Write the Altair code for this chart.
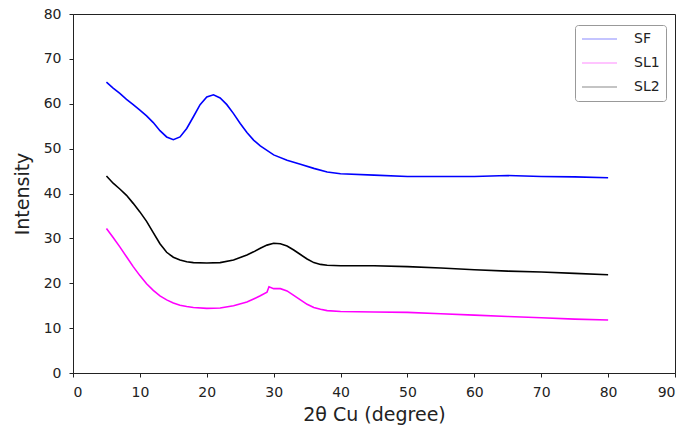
import altair as alt
import pandas as pd

sf_x = [5, 6, 7, 8, 9, 10, 11, 12, 13, 14, 15, 16, 17, 18, 19, 20, 21, 22, 23, 24, 25, 26, 27, 28, 30, 32, 34, 36, 38, 40, 45, 50, 55, 60, 65, 70, 75, 80]
sf_y = [64.8, 63.5, 62.3, 61.0, 59.8, 58.6, 57.3, 55.8, 54.0, 52.6, 52.0, 52.6, 54.5, 57.1, 59.8, 61.5, 62.0, 61.3, 59.8, 57.8, 55.6, 53.6, 51.9, 50.6, 48.6, 47.4, 46.5, 45.6, 44.8, 44.4, 44.1, 43.8, 43.8, 43.8, 44.0, 43.8, 43.7, 43.5]

sl1_x = [5, 6, 7, 8, 9, 10, 11, 12, 13, 14, 15, 16, 17, 18, 20, 22, 24, 26, 27, 28, 29, 29.3, 30, 31, 32, 33, 34, 35, 36, 37, 38, 40, 45, 50, 55, 60, 65, 70, 75, 80]
sl1_y = [32.2, 30.2, 28.1, 25.9, 23.7, 21.7, 19.9, 18.4, 17.2, 16.3, 15.6, 15.1, 14.8, 14.6, 14.4, 14.5, 15.0, 15.8, 16.5, 17.2, 18.0, 19.2, 18.8, 18.8, 18.3, 17.3, 16.3, 15.3, 14.6, 14.2, 13.9, 13.7, 13.6, 13.5, 13.2, 12.9, 12.6, 12.3, 12.0, 11.8]

sl2_x = [5, 6, 7, 8, 9, 10, 11, 12, 13, 14, 15, 16, 17, 18, 20, 22, 24, 26, 27, 28, 29, 30, 31, 32, 33, 34, 35, 36, 37, 38, 40, 45, 50, 55, 60, 65, 70, 75, 80]
sl2_y = [43.9, 42.3, 41.0, 39.6, 37.8, 35.9, 33.8, 31.3, 28.8, 26.9, 25.8, 25.2, 24.8, 24.6, 24.5, 24.6, 25.2, 26.3, 27.0, 27.8, 28.5, 28.9, 28.8, 28.3, 27.4, 26.4, 25.4, 24.6, 24.2, 24.0, 23.9, 23.9, 23.7, 23.4, 23.0, 22.7, 22.5, 22.2, 21.9]

series = ["SF", "SL1", "SL2"]
colors = ["#0000ff", "#ff00ff", "#000000"]

rows = []
for name, xs, ys in [("SF", sf_x, sf_y), ("SL1", sl1_x, sl1_y), ("SL2", sl2_x, sl2_y)]:
    for i, (x, y) in enumerate(zip(xs, ys)):
        rows.append({"x": x, "y": y, "series": name, "order": i})
df = pd.DataFrame(rows)

font = "DejaVu Sans"
ink = "#222"

chart = alt.Chart(df).mark_line(strokeWidth=1.6).encode(
    x=alt.X("x:Q", scale=alt.Scale(domain=[0, 90], nice=False),
            axis=alt.Axis(title="2θ Cu (degree)", values=list(range(0, 91, 10)), grid=False,
                          tickSize=4, labelFontSize=14, titleFontSize=19, titleFontWeight="normal",
                          labelColor=ink, titleColor=ink, domainColor=ink, tickColor=ink,
                          labelFont=font, titleFont=font, titlePadding=6, labelPadding=8)),
    y=alt.Y("y:Q", scale=alt.Scale(domain=[0, 80], nice=False),
            axis=alt.Axis(title="Intensity", values=list(range(0, 81, 10)), grid=False,
                          tickSize=4, labelFontSize=14, titleFontSize=19, titleFontWeight="normal",
                          labelColor=ink, titleColor=ink, domainColor=ink, tickColor=ink,
                          labelFont=font, titleFont=font, titlePadding=11, labelPadding=8)),
    color=alt.Color("series:N", scale=alt.Scale(domain=series, range=colors),
                    legend=alt.Legend(title=None, orient="none", legendX=502, legendY=11,
                                      symbolType="stroke", symbolStrokeWidth=1.6, symbolSize=1225,
                                      symbolOpacity=0.3, labelFontSize=14, labelFont=font,
                                      labelColor=ink, rowPadding=8, padding=6, clipHeight=16,
                                      strokeColor="#999", fillColor="white", cornerRadius=3,
                                      labelOffset=16, offset=0)),
    order="order:Q",
).properties(
    width=602, height=359,
    padding={"left": 73, "top": 14, "right": 8, "bottom": 66},
    autosize=alt.AutoSizeParams(type="none"),
).configure_view(stroke=ink, strokeWidth=1)

chart.save("out.html", embed_options={"renderer": "svg", "actions": False})
